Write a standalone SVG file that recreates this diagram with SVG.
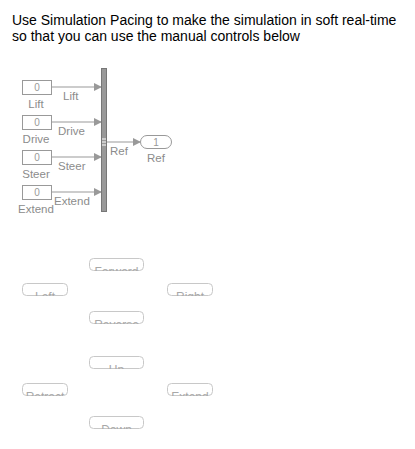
<svg xmlns="http://www.w3.org/2000/svg" width="415" height="449" viewBox="0 0 415 449">
<style>
.t{font-family:"Liberation Sans",Arial,sans-serif;}
.title{font-size:14px;fill:#000;}
.lbl{font-size:11.5px;fill:#8c8c8c;}
.blk{fill:#fff;stroke:#999;stroke-width:1;}
.val{font-size:10px;fill:#999;text-anchor:middle;}
.ln{stroke:#999;stroke-width:1;fill:none;}
.btn{fill:#fff;stroke:#c8c8c8;stroke-width:1;}
.btxt{font-size:12px;fill:#a8a8a8;text-anchor:middle;}
</style>
<defs>
<marker id="ah" markerWidth="8" markerHeight="8" refX="7" refY="4" orient="auto" markerUnits="userSpaceOnUse">
<path d="M0,0 L8,4 L0,8 Z" fill="#999"/>
</marker>
<clipPath id="c1"><rect x="89" y="258" width="55" height="13"/></clipPath>
<clipPath id="c2"><rect x="22" y="283" width="46" height="13"/></clipPath>
<clipPath id="c3"><rect x="167" y="283" width="46" height="13"/></clipPath>
<clipPath id="c4"><rect x="89" y="311" width="55" height="13"/></clipPath>
<clipPath id="c5"><rect x="89" y="356" width="55" height="13"/></clipPath>
<clipPath id="c6"><rect x="22" y="383" width="46" height="13"/></clipPath>
<clipPath id="c7"><rect x="167" y="383" width="46" height="13"/></clipPath>
<clipPath id="c8"><rect x="89" y="416" width="55" height="13"/></clipPath>
</defs>

<text class="t title" x="12" y="25">Use Simulation Pacing to make the simulation in soft real-time</text>
<text class="t title" x="12" y="41">so that you can use the manual controls below</text>

<g id="connectors">
<line class="ln" x1="51.5" y1="87" x2="101" y2="87" marker-end="url(#ah)"/>
<line class="ln" x1="51.5" y1="122" x2="101" y2="122" marker-end="url(#ah)"/>
<line class="ln" x1="51.5" y1="157" x2="101" y2="157" marker-end="url(#ah)"/>
<line class="ln" x1="51.5" y1="192" x2="101" y2="192" marker-end="url(#ah)"/>
<line class="ln" x1="107" y1="142" x2="140" y2="142" marker-end="url(#ah)"/>
<text class="t lbl" x="63" y="100">Lift</text>
<text class="t lbl" x="58" y="135">Drive</text>
<text class="t lbl" x="58" y="170">Steer</text>
<text class="t lbl" x="54" y="205">Extend</text>
<text class="t lbl" x="110" y="155">Ref</text>
</g>

<g id="const_lift">
<rect class="blk" x="22.5" y="80.5" width="29" height="14"/>
<text class="t val" x="37" y="91">0</text>
<text class="t lbl" x="36" y="108" text-anchor="middle">Lift</text>
</g>
<g id="const_drive">
<rect class="blk" x="22.5" y="115.5" width="29" height="14"/>
<text class="t val" x="37" y="126">0</text>
<text class="t lbl" x="36" y="143" text-anchor="middle">Drive</text>
</g>
<g id="const_steer">
<rect class="blk" x="22.5" y="150.5" width="29" height="14"/>
<text class="t val" x="37" y="161">0</text>
<text class="t lbl" x="36" y="178" text-anchor="middle">Steer</text>
</g>
<g id="const_extend">
<rect class="blk" x="22.5" y="185.5" width="29" height="14"/>
<text class="t val" x="37" y="196">0</text>
<text class="t lbl" x="36" y="213" text-anchor="middle">Extend</text>
</g>

<g id="mux">
<rect x="101.5" y="68.5" width="5" height="143" fill="#999" stroke="#777" stroke-width="1"/>
<line x1="102" y1="139" x2="106" y2="139" stroke="#fff"/>
<line x1="102" y1="142" x2="106" y2="142" stroke="#fff"/>
<line x1="102" y1="145" x2="106" y2="145" stroke="#fff"/>
</g>

<g id="outport_ref">
<rect class="blk" x="140.5" y="135.5" width="31" height="13" rx="6.5"/>
<text class="t val" x="156" y="146">1</text>
<text class="t lbl" x="156" y="162" text-anchor="middle">Ref</text>
</g>

<g id="btn_forward"><rect class="btn" x="89.5" y="258.5" width="54" height="12" rx="4"/><text class="t btxt" x="116.5" y="276" clip-path="url(#c1)">Forward</text></g>
<g id="btn_left"><rect class="btn" x="22.5" y="283.5" width="45" height="12" rx="4"/><text class="t btxt" x="45" y="301" clip-path="url(#c2)">Left</text></g>
<g id="btn_right"><rect class="btn" x="167.5" y="283.5" width="45" height="12" rx="4"/><text class="t btxt" x="190" y="301" clip-path="url(#c3)">Right</text></g>
<g id="btn_reverse"><rect class="btn" x="89.5" y="311.5" width="54" height="12" rx="4"/><text class="t btxt" x="116.5" y="329" clip-path="url(#c4)">Reverse</text></g>
<g id="btn_up"><rect class="btn" x="89.5" y="356.5" width="54" height="12" rx="4"/><text class="t btxt" x="116.5" y="374" clip-path="url(#c5)">Up</text></g>
<g id="btn_retract"><rect class="btn" x="22.5" y="383.5" width="45" height="12" rx="4"/><text class="t btxt" x="45" y="401" clip-path="url(#c6)">Retract</text></g>
<g id="btn_extend"><rect class="btn" x="167.5" y="383.5" width="45" height="12" rx="4"/><text class="t btxt" x="190" y="401" clip-path="url(#c7)">Extend</text></g>
<g id="btn_down"><rect class="btn" x="89.5" y="416.5" width="54" height="12" rx="4"/><text class="t btxt" x="116.5" y="434" clip-path="url(#c8)">Down</text></g>
</svg>
